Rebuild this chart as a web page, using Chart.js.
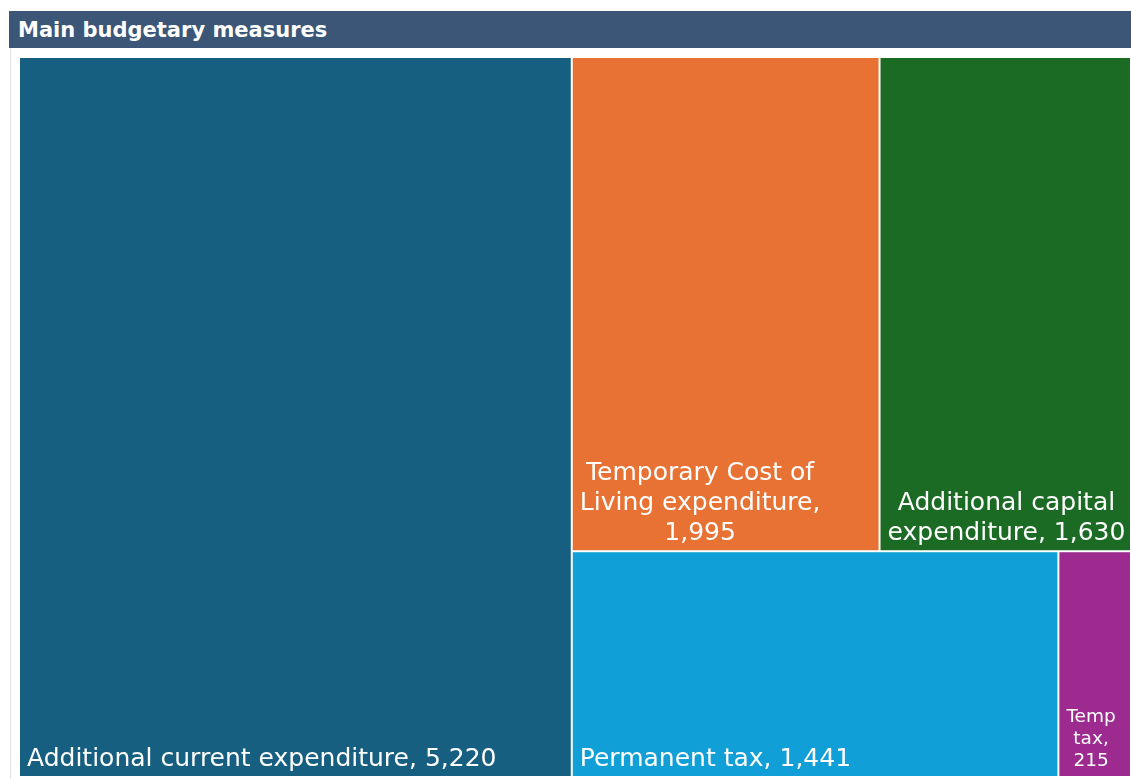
<!DOCTYPE html>
<html>
<head>
<meta charset="utf-8">
<script src="https://cdn.jsdelivr.net/npm/chart.js@4/dist/chart.umd.min.js"></script>
<style>
  html, body { margin: 0; padding: 0; background: #ffffff; }
  body { width: 1131px; height: 779px; position: relative; overflow: hidden; font-family: "DejaVu Sans", Verdana, sans-serif; }
  #title { position: absolute; left: 9px; top: 11px; width: 1122px; height: 37px; background: #3b5676;
           color: #ffffff; font-weight: bold; font-size: 21px; line-height: 38px; padding-left: 9px; box-sizing: border-box; }
  #panel { position: absolute; left: 10px; top: 48px; width: 1121px; height: 731px; border-left: 1px solid #e2e2e2; box-sizing: border-box; }
  #wrap { position: absolute; left: 19px; top: 57px; width: 1112px; height: 720px; }
</style>
</head>
<body>
<div id="title">Main budgetary measures</div>
<div id="panel"></div>
<div id="wrap"><canvas id="c"></canvas></div>
<script>
const categories = ['Additional current expenditure', 'Temporary Cost of Living expenditure', 'Additional capital expenditure', 'Permanent tax', 'Temp tax'];
const values = [5220, 1995, 1630, 1441, 215];
const valueLabels = ['5,220', '1,995', '1,630', '1,441', '215'];
const cellColors = ['#165f80', '#e87233', '#1b6b24', '#119fd7', '#9c2a8f'];

function worst(row, side) {
  const s = row.reduce((a, d) => a + d.area, 0);
  const mx = Math.max(...row.map(d => d.area));
  const mn = Math.min(...row.map(d => d.area));
  return Math.max(side * side * mx / (s * s), (s * s) / (side * side * mn));
}
function squarify(items, rect) {
  const out = [];
  let rem = items.slice();
  let r = Object.assign({}, rect);
  while (rem.length) {
    const side = Math.min(r.w, r.h);
    let row = [rem[0]];
    let i = 1;
    while (i < rem.length) {
      const t = row.concat([rem[i]]);
      if (worst(t, side) <= worst(row, side)) { row = t; i++; } else break;
    }
    const sum = row.reduce((a, d) => a + d.area, 0);
    if (r.w >= r.h) {
      const t = sum / r.h; let yy = r.y;
      row.forEach(d => { const hh = d.area / t; out.push(Object.assign({}, d, { x: r.x, y: yy, w: t, h: hh })); yy += hh; });
      r = { x: r.x + t, y: r.y, w: r.w - t, h: r.h };
    } else {
      const t = sum / r.w; let xx = r.x;
      row.forEach(d => { const ww = d.area / t; out.push(Object.assign({}, d, { x: xx, y: r.y, w: ww, h: t })); xx += ww; });
      r = { x: r.x, y: r.y + t, w: r.w, h: r.h - t };
    }
    rem = rem.slice(row.length);
  }
  return out;
}

function wrapWords(ctx, text, maxW) {
  const words = text.split(' ');
  const lines = [];
  let cur = '';
  words.forEach(w => {
    const t = cur ? cur + ' ' + w : w;
    if (ctx.measureText(t).width <= maxW || !cur) cur = t; else { lines.push(cur); cur = w; }
  });
  if (cur) lines.push(cur);
  return lines;
}

const treemapPlugin = {
  id: 'treemapCells',
  afterDatasetsDraw(chart) {
    const ctx = chart.ctx;
    const xs = chart.scales.x, ys = chart.scales.y;
    const area = chart.chartArea;
    const aspect = (area.right - area.left) / (area.bottom - area.top);
    const total = values.reduce((a, b) => a + b, 0);
    const items = values.map((v, i) => ({ i, area: v / total * aspect }))
                        .sort((a, b) => b.area - a.area);
    const cells = squarify(items, { x: 0, y: 0, w: aspect, h: 1 });
    ctx.save();
    cells.forEach(c => {
      const x0 = xs.getPixelForValue(c.x / aspect), x1 = xs.getPixelForValue((c.x + c.w) / aspect);
      const y0 = ys.getPixelForValue(c.y), y1 = ys.getPixelForValue(c.y + c.h);
      const L = Math.min(x0, x1) + 1, R = Math.max(x0, x1) - 1;
      const T = Math.min(y0, y1) + 1, B = Math.max(y0, y1) - 1;
      ctx.fillStyle = cellColors[c.i];
      ctx.fillRect(L, T, R - L, B - T);
      // label
      const text = categories[c.i] + ', ' + valueLabels[c.i];
      const shrinkAvail = (R - L) - 20;
      const wrapAvail = (R - L) - 10;
      let size = 25;
      for (; size > 8; size -= 0.5) {
        ctx.font = size + 'px "DejaVu Sans", Verdana, sans-serif';
        const ok = text.split(' ').every(w => ctx.measureText(w).width <= shrinkAvail);
        if (ok) break;
      }
      ctx.font = size + 'px "DejaVu Sans", Verdana, sans-serif';
      const lines = wrapWords(ctx, text, wrapAvail);
      const blockW = Math.max(...lines.map(l => ctx.measureText(l).width));
      const lh = size * 1.2;
      const cx = L + 7 + blockW / 2;
      ctx.fillStyle = '#ffffff';
      ctx.textAlign = 'center';
      ctx.textBaseline = 'alphabetic';
      lines.forEach((l, k) => {
        const by = B - 10 - (lines.length - 1 - k) * lh;
        ctx.fillText(l, cx, by);
      });
    });
    ctx.restore();
  }
};

new Chart(document.getElementById('c'), {
  type: 'scatter',
  data: { datasets: [] },
  options: {
    responsive: true,
    maintainAspectRatio: false,
    animation: false,
    layout: { padding: 0 },
    plugins: { legend: { display: false }, tooltip: { enabled: false }, title: { display: false } },
    scales: {
      x: { type: 'linear', min: 0, max: 1, display: false },
      y: { type: 'linear', min: 0, max: 1, reverse: true, display: false }
    }
  },
  plugins: [treemapPlugin]
});
</script>
</body>
</html>
